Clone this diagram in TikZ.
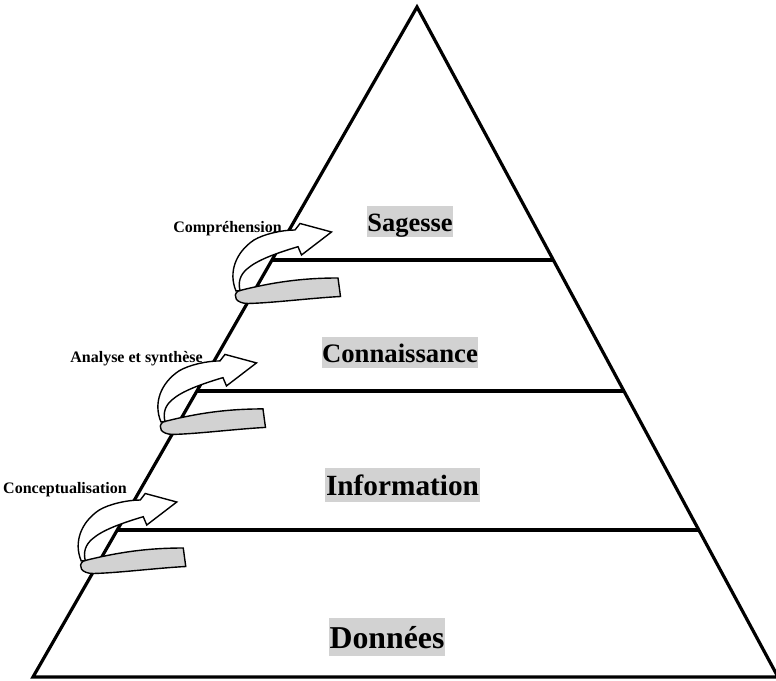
\documentclass[tikz,border=0pt]{standalone}
\usepackage{fontspec}
\setmainfont{Liberation Serif}
\usetikzlibrary{calc}

\tikzset{
  pyrline/.style={line width=3.2pt},
  level/.style={fill=gray!35, inner xsep=0.5pt, inner ysep=0.3pt},
  stepname/.style={font=\bfseries\fontsize{16}{18}\selectfont, inner sep=0pt, anchor=base east},
  ribbon/.style={line width=1.4pt, line join=miter},
}

% turning arrow, drawn around a point of the left edge
\newcommand{\turnarrow}[1]{%
  \begin{scope}[shift={(#1)}]
    \filldraw[ribbon, fill=gray!35] (66,18) .. controls (35,18) and (5,21) .. (-34,31)
      .. controls (-40,36) and (-36,43.5) .. (-24,43.5)
      .. controls (0,43) and (40,38) .. (68.5,36.5) -- cycle;
    \filldraw[ribbon, fill=white] (-36,31) .. controls (-44,12) and (-36,-8) .. (-18,-20)
      .. controls (-8,-26) and (10,-30) .. (23,-30) -- (28,-36.5) -- (59.5,-28) -- (29.5,-5) -- (26,-13.3)
      .. controls (5,-7) and (-15,0) .. (-25,9)
      .. controls (-32,15) and (-34,22) .. (-32,30.5) -- cycle;
  \end{scope}}

\begin{document}
\begin{tikzpicture}[x=1pt,y=-1pt]
  \useasboundingbox (0,0) rectangle (776,680);

  \coordinate (top) at (417,7);
  \coordinate (bl) at (33,677);
  \coordinate (br) at (778,677);

  \draw[pyrline] (top) -- (bl) -- (br) -- cycle;

  \coordinate (l1) at ($(top)!0.3776!(bl)$);
  \coordinate (r1) at ($(top)!0.3776!(br)$);
  \coordinate (l2) at ($(top)!0.573!(bl)$);
  \coordinate (r2) at ($(top)!0.573!(br)$);
  \coordinate (l3) at ($(top)!0.7806!(bl)$);
  \coordinate (r3) at ($(top)!0.7806!(br)$);

  \draw[pyrline] (l1) -- (r1);
  \draw[pyrline] (l2) -- (r2);
  \draw[pyrline] (l3) -- (r3);

  \node[level, font=\bfseries\fontsize{26.4}{30}\selectfont, text height=25pt, text depth=5.5pt] (sagesse) at (410,221.5) {Sagesse};
  \node[level, font=\bfseries\fontsize{26.7}{30}\selectfont, text height=25pt, text depth=5.5pt] (connaissance) at (400,352.5) {Connaissance};
  \node[level, font=\bfseries\fontsize{29.3}{33}\selectfont, text height=27.5pt, text depth=6pt] (information) at (402.5,485) {Information};
  \node[level, font=\bfseries\fontsize{31.8}{36}\selectfont, text height=30pt, text depth=7pt] (donnees) at (387,637) {Données};

  \turnarrow{l1}
  \turnarrow{l2}
  \turnarrow{l3}

  \node[stepname] (comprehension) at (282,232) {Compréhension};
  \node[stepname] (analyse) at (203,362) {Analyse et synthèse};
  \node[stepname] (conceptualisation) at (127,493) {Conceptualisation};
\end{tikzpicture}
\end{document}
